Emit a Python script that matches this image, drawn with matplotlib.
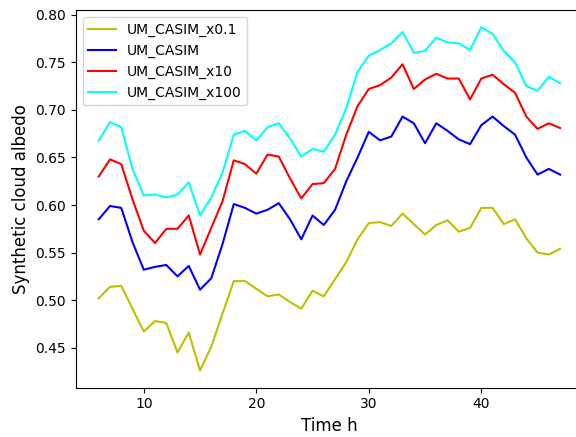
import numpy as np
import matplotlib
matplotlib.use('Agg')
import matplotlib.pyplot as plt

time = np.arange(6, 48)

albedo_x01 = [0.502, 0.514, 0.515, 0.491, 0.467, 0.478, 0.476, 0.445, 0.466, 0.426,
              0.451, 0.486, 0.520, 0.520, 0.512, 0.504, 0.506, 0.498, 0.491, 0.510,
              0.504, 0.522, 0.540, 0.564, 0.581, 0.582, 0.578, 0.591, 0.580, 0.569,
              0.579, 0.584, 0.572, 0.576, 0.597, 0.597, 0.580, 0.585, 0.565, 0.550,
              0.548, 0.554]
albedo_ctrl = [0.585, 0.599, 0.597, 0.561, 0.532, 0.535, 0.537, 0.525, 0.536, 0.511,
               0.523, 0.559, 0.601, 0.597, 0.591, 0.595, 0.602, 0.585, 0.564, 0.589,
               0.579, 0.595, 0.625, 0.650, 0.677, 0.668, 0.672, 0.693, 0.686, 0.665,
               0.686, 0.678, 0.669, 0.664, 0.684, 0.693, 0.683, 0.674, 0.650, 0.632,
               0.638, 0.632]
albedo_x10 = [0.630, 0.648, 0.643, 0.606, 0.573, 0.560, 0.575, 0.575, 0.589, 0.548,
              0.576, 0.604, 0.647, 0.643, 0.633, 0.653, 0.651, 0.628, 0.607, 0.622,
              0.623, 0.638, 0.674, 0.704, 0.722, 0.726, 0.734, 0.748, 0.722, 0.732,
              0.738, 0.733, 0.733, 0.711, 0.733, 0.737, 0.727, 0.718, 0.693, 0.680,
              0.686, 0.681]
albedo_x100 = [0.668, 0.687, 0.682, 0.638, 0.610, 0.611, 0.608, 0.611, 0.624, 0.589,
               0.608, 0.634, 0.674, 0.678, 0.668, 0.682, 0.686, 0.670, 0.651, 0.659,
               0.656, 0.674, 0.702, 0.740, 0.757, 0.763, 0.770, 0.782, 0.760, 0.762,
               0.776, 0.771, 0.770, 0.763, 0.787, 0.780, 0.762, 0.750, 0.725, 0.720,
               0.735, 0.728]

fig = plt.figure(figsize=(5.76, 4.37), dpi=100)
ax = fig.add_axes([0.1314, 0.1128, 0.881, 0.8643])

ax.plot(time, albedo_x01, color='y', label='UM_CASIM_x0.1')
ax.plot(time, albedo_ctrl, color='blue', label='UM_CASIM')
ax.plot(time, albedo_x10, color='red', label='UM_CASIM_x10')
ax.plot(time, albedo_x100, color='cyan', label='UM_CASIM_x100')

ax.set_xlabel('Time h', fontsize=12)
ax.set_ylabel('Synthetic cloud albedo', fontsize=12)
ax.legend(loc='upper left')

plt.savefig('out.png', dpi=100)
